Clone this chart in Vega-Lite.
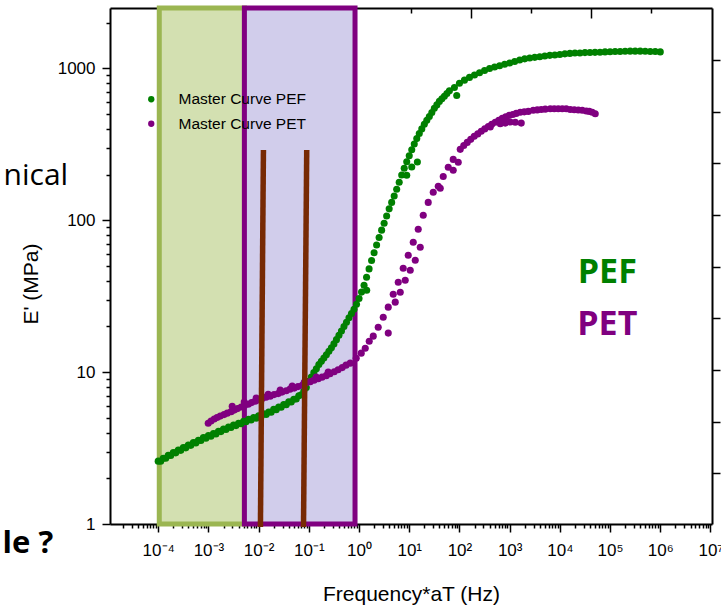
{
  "$schema": "https://vega.github.io/schema/vega-lite/v6.json",
  "width": 602,
  "height": 516,
  "autosize": {"type": "none"},
  "padding": {"left": 110, "top": 8, "right": 9, "bottom": 83},
  "background": "white",
  "config": {
    "view": {"stroke": null},
    "axis": {
      "grid": false, "domainColor": "#000", "tickColor": "#000", "labelColor": "#000", "titleColor": "#000",
      "labelFont": "Liberation Sans", "titleFont": "Liberation Sans", "labelFontSize": 17, "titleFontSize": 21,
      "titleFontWeight": "normal", "domainWidth": 2, "tickWidth": 1.5, "zindex": 1,
      "labelOverlap": false, "labelFlush": false, "labelBound": false
    }
  },
  "datasets": {
    "curves": [
      {"f": 0.0001, "E": 2.594, "s": "Master Curve PEF"},
      {"f": 0.0001122, "E": 2.591, "s": "Master Curve PEF"},
      {"f": 0.0001259, "E": 2.710, "s": "Master Curve PEF"},
      {"f": 0.0001413, "E": 2.707, "s": "Master Curve PEF"},
      {"f": 0.0001585, "E": 2.831, "s": "Master Curve PEF"},
      {"f": 0.0001778, "E": 2.824, "s": "Master Curve PEF"},
      {"f": 0.0001995, "E": 2.951, "s": "Master Curve PEF"},
      {"f": 0.0002239, "E": 2.941, "s": "Master Curve PEF"},
      {"f": 0.0002512, "E": 3.069, "s": "Master Curve PEF"},
      {"f": 0.0002818, "E": 3.055, "s": "Master Curve PEF"},
      {"f": 0.0003162, "E": 3.184, "s": "Master Curve PEF"},
      {"f": 0.0003548, "E": 3.173, "s": "Master Curve PEF"},
      {"f": 0.0003981, "E": 3.311, "s": "Master Curve PEF"},
      {"f": 0.0004467, "E": 3.296, "s": "Master Curve PEF"},
      {"f": 0.0005012, "E": 3.436, "s": "Master Curve PEF"},
      {"f": 0.0005623, "E": 3.420, "s": "Master Curve PEF"},
      {"f": 0.000631, "E": 3.565, "s": "Master Curve PEF"},
      {"f": 0.0007079, "E": 3.552, "s": "Master Curve PEF"},
      {"f": 0.0007943, "E": 3.707, "s": "Master Curve PEF"},
      {"f": 0.0008913, "E": 3.676, "s": "Master Curve PEF"},
      {"f": 0.001, "E": 3.819, "s": "Master Curve PEF"},
      {"f": 0.001122, "E": 3.788, "s": "Master Curve PEF"},
      {"f": 0.001259, "E": 3.936, "s": "Master Curve PEF"},
      {"f": 0.001413, "E": 3.917, "s": "Master Curve PEF"},
      {"f": 0.001585, "E": 4.083, "s": "Master Curve PEF"},
      {"f": 0.001778, "E": 4.059, "s": "Master Curve PEF"},
      {"f": 0.001995, "E": 4.227, "s": "Master Curve PEF"},
      {"f": 0.002239, "E": 4.192, "s": "Master Curve PEF"},
      {"f": 0.002512, "E": 4.355, "s": "Master Curve PEF"},
      {"f": 0.002818, "E": 4.319, "s": "Master Curve PEF"},
      {"f": 0.003162, "E": 4.487, "s": "Master Curve PEF"},
      {"f": 0.003548, "E": 4.445, "s": "Master Curve PEF"},
      {"f": 0.003981, "E": 4.613, "s": "Master Curve PEF"},
      {"f": 0.004467, "E": 4.575, "s": "Master Curve PEF"},
      {"f": 0.005012, "E": 4.753, "s": "Master Curve PEF"},
      {"f": 0.005623, "E": 4.709, "s": "Master Curve PEF"},
      {"f": 0.00631, "E": 4.887, "s": "Master Curve PEF"},
      {"f": 0.007079, "E": 4.841, "s": "Master Curve PEF"},
      {"f": 0.007943, "E": 5.023, "s": "Master Curve PEF"},
      {"f": 0.008913, "E": 4.976, "s": "Master Curve PEF"},
      {"f": 0.01, "E": 5.164, "s": "Master Curve PEF"},
      {"f": 0.01122, "E": 5.122, "s": "Master Curve PEF"},
      {"f": 0.01259, "E": 5.321, "s": "Master Curve PEF"},
      {"f": 0.01413, "E": 5.271, "s": "Master Curve PEF"},
      {"f": 0.01585, "E": 5.470, "s": "Master Curve PEF"},
      {"f": 0.01778, "E": 5.451, "s": "Master Curve PEF"},
      {"f": 0.01995, "E": 5.689, "s": "Master Curve PEF"},
      {"f": 0.02239, "E": 5.662, "s": "Master Curve PEF"},
      {"f": 0.02512, "E": 5.902, "s": "Master Curve PEF"},
      {"f": 0.02818, "E": 5.875, "s": "Master Curve PEF"},
      {"f": 0.03162, "E": 6.124, "s": "Master Curve PEF"},
      {"f": 0.03548, "E": 6.102, "s": "Master Curve PEF"},
      {"f": 0.03981, "E": 6.368, "s": "Master Curve PEF"},
      {"f": 0.04467, "E": 6.353, "s": "Master Curve PEF"},
      {"f": 0.05012, "E": 6.637, "s": "Master Curve PEF"},
      {"f": 0.05623, "E": 6.661, "s": "Master Curve PEF"},
      {"f": 0.0631, "E": 6.998, "s": "Master Curve PEF"},
      {"f": 0.07079, "E": 7.090, "s": "Master Curve PEF"},
      {"f": 0.07943, "E": 7.516, "s": "Master Curve PEF"},
      {"f": 0.08913, "E": 7.926, "s": "Master Curve PEF"},
      {"f": 0.1, "E": 8.710, "s": "Master Curve PEF"},
      {"f": 0.1122, "E": 9.290, "s": "Master Curve PEF"},
      {"f": 0.1259, "E": 9.931, "s": "Master Curve PEF"},
      {"f": 0.1413, "E": 10.54, "s": "Master Curve PEF"},
      {"f": 0.1585, "E": 11.22, "s": "Master Curve PEF"},
      {"f": 0.1778, "E": 11.78, "s": "Master Curve PEF"},
      {"f": 0.1995, "E": 12.39, "s": "Master Curve PEF"},
      {"f": 0.2239, "E": 13.03, "s": "Master Curve PEF"},
      {"f": 0.2512, "E": 13.71, "s": "Master Curve PEF"},
      {"f": 0.2818, "E": 14.45, "s": "Master Curve PEF"},
      {"f": 0.3162, "E": 15.35, "s": "Master Curve PEF"},
      {"f": 0.3548, "E": 16.37, "s": "Master Curve PEF"},
      {"f": 0.3981, "E": 17.50, "s": "Master Curve PEF"},
      {"f": 0.4467, "E": 18.66, "s": "Master Curve PEF"},
      {"f": 0.5012, "E": 19.95, "s": "Master Curve PEF"},
      {"f": 0.5623, "E": 21.33, "s": "Master Curve PEF"},
      {"f": 0.631, "E": 22.80, "s": "Master Curve PEF"},
      {"f": 0.7079, "E": 24.32, "s": "Master Curve PEF"},
      {"f": 0.7943, "E": 25.94, "s": "Master Curve PEF"},
      {"f": 0.8913, "E": 27.99, "s": "Master Curve PEF"},
      {"f": 1.0, "E": 30.55, "s": "Master Curve PEF"},
      {"f": 1.122, "E": 33.65, "s": "Master Curve PEF"},
      {"f": 1.259, "E": 37.33, "s": "Master Curve PEF"},
      {"f": 1.413, "E": 42.17, "s": "Master Curve PEF"},
      {"f": 1.422, "E": 34.6, "s": "Master Curve PEF"},
      {"f": 1.585, "E": 47.86, "s": "Master Curve PEF"},
      {"f": 1.778, "E": 54.33, "s": "Master Curve PEF"},
      {"f": 1.995, "E": 61.09, "s": "Master Curve PEF"},
      {"f": 2.239, "E": 68.71, "s": "Master Curve PEF"},
      {"f": 2.512, "E": 77.09, "s": "Master Curve PEF"},
      {"f": 2.818, "E": 86.10, "s": "Master Curve PEF"},
      {"f": 3.162, "E": 95.50, "s": "Master Curve PEF"},
      {"f": 3.548, "E": 106.7, "s": "Master Curve PEF"},
      {"f": 3.981, "E": 118.9, "s": "Master Curve PEF"},
      {"f": 4.467, "E": 131.2, "s": "Master Curve PEF"},
      {"f": 5.012, "E": 144.5, "s": "Master Curve PEF"},
      {"f": 5.623, "E": 160.3, "s": "Master Curve PEF"},
      {"f": 6.31, "E": 177.8, "s": "Master Curve PEF"},
      {"f": 7.079, "E": 198.6, "s": "Master Curve PEF"},
      {"f": 7.943, "E": 220.3, "s": "Master Curve PEF"},
      {"f": 8.913, "E": 242.7, "s": "Master Curve PEF"},
      {"f": 8.913, "E": 197.7, "s": "Master Curve PEF"},
      {"f": 10, "E": 266.1, "s": "Master Curve PEF"},
      {"f": 11.22, "E": 291.7, "s": "Master Curve PEF"},
      {"f": 11.22, "E": 224.6, "s": "Master Curve PEF"},
      {"f": 12.59, "E": 317.7, "s": "Master Curve PEF"},
      {"f": 14.13, "E": 345.1, "s": "Master Curve PEF"},
      {"f": 14.52, "E": 242.0, "s": "Master Curve PEF"},
      {"f": 15.85, "E": 372.4, "s": "Master Curve PEF"},
      {"f": 17.78, "E": 399.9, "s": "Master Curve PEF"},
      {"f": 19.95, "E": 428.5, "s": "Master Curve PEF"},
      {"f": 22.39, "E": 455.0, "s": "Master Curve PEF"},
      {"f": 25.12, "E": 482.0, "s": "Master Curve PEF"},
      {"f": 28.18, "E": 512.9, "s": "Master Curve PEF"},
      {"f": 31.62, "E": 545.8, "s": "Master Curve PEF"},
      {"f": 35.48, "E": 575.4, "s": "Master Curve PEF"},
      {"f": 39.81, "E": 606.7, "s": "Master Curve PEF"},
      {"f": 44.67, "E": 631.0, "s": "Master Curve PEF"},
      {"f": 50.12, "E": 656.1, "s": "Master Curve PEF"},
      {"f": 56.23, "E": 683.9, "s": "Master Curve PEF"},
      {"f": 63.1, "E": 712.9, "s": "Master Curve PEF"},
      {"f": 79.43, "E": 749.9, "s": "Master Curve PEF"},
      {"f": 88.3, "E": 663.7, "s": "Master Curve PEF"},
      {"f": 100, "E": 799.8, "s": "Master Curve PEF"},
      {"f": 125.9, "E": 837.5, "s": "Master Curve PEF"},
      {"f": 158.5, "E": 873.0, "s": "Master Curve PEF"},
      {"f": 199.5, "E": 905.7, "s": "Master Curve PEF"},
      {"f": 251.2, "E": 937.6, "s": "Master Curve PEF"},
      {"f": 316.2, "E": 968.3, "s": "Master Curve PEF"},
      {"f": 398.1, "E": 997.7, "s": "Master Curve PEF"},
      {"f": 501.2, "E": 1021, "s": "Master Curve PEF"},
      {"f": 631, "E": 1042, "s": "Master Curve PEF"},
      {"f": 794.3, "E": 1064, "s": "Master Curve PEF"},
      {"f": 1000, "E": 1086, "s": "Master Curve PEF"},
      {"f": 1259, "E": 1112, "s": "Master Curve PEF"},
      {"f": 1585, "E": 1135, "s": "Master Curve PEF"},
      {"f": 1995, "E": 1156, "s": "Master Curve PEF"},
      {"f": 2512, "E": 1172, "s": "Master Curve PEF"},
      {"f": 3162, "E": 1183, "s": "Master Curve PEF"},
      {"f": 3981, "E": 1194, "s": "Master Curve PEF"},
      {"f": 5012, "E": 1208, "s": "Master Curve PEF"},
      {"f": 6310, "E": 1219, "s": "Master Curve PEF"},
      {"f": 7943, "E": 1227, "s": "Master Curve PEF"},
      {"f": 10000, "E": 1236, "s": "Master Curve PEF"},
      {"f": 12590, "E": 1247, "s": "Master Curve PEF"},
      {"f": 15850, "E": 1256, "s": "Master Curve PEF"},
      {"f": 19950, "E": 1262, "s": "Master Curve PEF"},
      {"f": 25120, "E": 1265, "s": "Master Curve PEF"},
      {"f": 31620, "E": 1271, "s": "Master Curve PEF"},
      {"f": 39810, "E": 1274, "s": "Master Curve PEF"},
      {"f": 50120, "E": 1276, "s": "Master Curve PEF"},
      {"f": 63100, "E": 1279, "s": "Master Curve PEF"},
      {"f": 79430, "E": 1285, "s": "Master Curve PEF"},
      {"f": 100000, "E": 1288, "s": "Master Curve PEF"},
      {"f": 125900, "E": 1291, "s": "Master Curve PEF"},
      {"f": 158500, "E": 1294, "s": "Master Curve PEF"},
      {"f": 199500, "E": 1297, "s": "Master Curve PEF"},
      {"f": 251200, "E": 1300, "s": "Master Curve PEF"},
      {"f": 316200, "E": 1300, "s": "Master Curve PEF"},
      {"f": 398100, "E": 1300, "s": "Master Curve PEF"},
      {"f": 501200, "E": 1297, "s": "Master Curve PEF"},
      {"f": 631000, "E": 1294, "s": "Master Curve PEF"},
      {"f": 794300, "E": 1291, "s": "Master Curve PEF"},
      {"f": 1000000, "E": 1285, "s": "Master Curve PEF"},

      {"f": 0.000991, "E": 4.613, "s": "Master Curve PET"},
      {"f": 0.001127, "E": 4.764, "s": "Master Curve PET"},
      {"f": 0.001306, "E": 4.909, "s": "Master Curve PET"},
      {"f": 0.001483, "E": 5.021, "s": "Master Curve PET"},
      {"f": 0.001718, "E": 5.134, "s": "Master Curve PET"},
      {"f": 0.002046, "E": 5.253, "s": "Master Curve PET"},
      {"f": 0.002371, "E": 5.370, "s": "Master Curve PET"},
      {"f": 0.002831, "E": 5.495, "s": "Master Curve PET"},
      {"f": 0.002979, "E": 5.970, "s": "Master Curve PET"},
      {"f": 0.003266, "E": 5.623, "s": "Master Curve PET"},
      {"f": 0.003802, "E": 5.754, "s": "Master Curve PET"},
      {"f": 0.004498, "E": 5.888, "s": "Master Curve PET"},
      {"f": 0.005164, "E": 6.353, "s": "Master Curve PET"},
      {"f": 0.005236, "E": 6.020, "s": "Master Curve PET"},
      {"f": 0.006209, "E": 6.152, "s": "Master Curve PET"},
      {"f": 0.007228, "E": 6.300, "s": "Master Curve PET"},
      {"f": 0.008551, "E": 6.442, "s": "Master Curve PET"},
      {"f": 0.008954, "E": 6.745, "s": "Master Curve PET"},
      {"f": 0.009954, "E": 6.546, "s": "Master Curve PET"},
      {"f": 0.0118, "E": 6.699, "s": "Master Curve PET"},
      {"f": 0.01403, "E": 6.846, "s": "Master Curve PET"},
      {"f": 0.01552, "E": 7.161, "s": "Master Curve PET"},
      {"f": 0.01702, "E": 6.950, "s": "Master Curve PET"},
      {"f": 0.02028, "E": 7.112, "s": "Master Curve PET"},
      {"f": 0.02455, "E": 7.223, "s": "Master Curve PET"},
      {"f": 0.02692, "E": 7.621, "s": "Master Curve PET"},
      {"f": 0.02924, "E": 7.389, "s": "Master Curve PET"},
      {"f": 0.03548, "E": 7.551, "s": "Master Curve PET"},
      {"f": 0.04217, "E": 7.727, "s": "Master Curve PET"},
      {"f": 0.04667, "E": 8.091, "s": "Master Curve PET"},
      {"f": 0.05117, "E": 7.852, "s": "Master Curve PET"},
      {"f": 0.06095, "E": 8.029, "s": "Master Curve PET"},
      {"f": 0.07396, "E": 8.204, "s": "Master Curve PET"},
      {"f": 0.08091, "E": 8.590, "s": "Master Curve PET"},
      {"f": 0.0879, "E": 8.472, "s": "Master Curve PET"},
      {"f": 0.1067, "E": 8.660, "s": "Master Curve PET"},
      {"f": 0.127, "E": 8.859, "s": "Master Curve PET"},
      {"f": 0.1403, "E": 9.268, "s": "Master Curve PET"},
      {"f": 0.1538, "E": 9.057, "s": "Master Curve PET"},
      {"f": 0.1832, "E": 9.268, "s": "Master Curve PET"},
      {"f": 0.2223, "E": 9.484, "s": "Master Curve PET"},
      {"f": 0.2432, "E": 10.0, "s": "Master Curve PET"},
      {"f": 0.2642, "E": 9.775, "s": "Master Curve PET"},
      {"f": 0.3206, "E": 10.07, "s": "Master Curve PET"},
      {"f": 0.3828, "E": 10.38, "s": "Master Curve PET"},
      {"f": 0.4624, "E": 10.71, "s": "Master Curve PET"},
      {"f": 0.5508, "E": 11.12, "s": "Master Curve PET"},
      {"f": 0.6683, "E": 11.46, "s": "Master Curve PET"},
      {"f": 0.879, "E": 12.36, "s": "Master Curve PET"},
      {"f": 1.107, "E": 13.34, "s": "Master Curve PET"},
      {"f": 1.33, "E": 14.38, "s": "Master Curve PET"},
      {"f": 1.596, "E": 15.99, "s": "Master Curve PET"},
      {"f": 1.919, "E": 17.26, "s": "Master Curve PET"},
      {"f": 2.411, "E": 19.77, "s": "Master Curve PET"},
      {"f": 3.034, "E": 23.01, "s": "Master Curve PET"},
      {"f": 3.819, "E": 26.79, "s": "Master Curve PET"},
      {"f": 3.819, "E": 18.07, "s": "Master Curve PET"},
      {"f": 4.797, "E": 32.58, "s": "Master Curve PET"},
      {"f": 5.26, "E": 28.91, "s": "Master Curve PET"},
      {"f": 6.039, "E": 39.08, "s": "Master Curve PET"},
      {"f": 6.622, "E": 33.58, "s": "Master Curve PET"},
      {"f": 7.586, "E": 48.31, "s": "Master Curve PET"},
      {"f": 8.318, "E": 40.27, "s": "Master Curve PET"},
      {"f": 9.55, "E": 58.88, "s": "Master Curve PET"},
      {"f": 10.47, "E": 46.88, "s": "Master Curve PET"},
      {"f": 12.02, "E": 71.61, "s": "Master Curve PET"},
      {"f": 13.18, "E": 54.58, "s": "Master Curve PET"},
      {"f": 15.10, "E": 87.30, "s": "Master Curve PET"},
      {"f": 16.56, "E": 66.42, "s": "Master Curve PET"},
      {"f": 19.01, "E": 107.9, "s": "Master Curve PET"},
      {"f": 23.88, "E": 131.2, "s": "Master Curve PET"},
      {"f": 30.06, "E": 152.8, "s": "Master Curve PET"},
      {"f": 37.84, "E": 167.5, "s": "Master Curve PET"},
      {"f": 41.50, "E": 162.4, "s": "Master Curve PET"},
      {"f": 47.53, "E": 194.5, "s": "Master Curve PET"},
      {"f": 59.84, "E": 223.4, "s": "Master Curve PET"},
      {"f": 75.16, "E": 251.8, "s": "Master Curve PET"},
      {"f": 75.16, "E": 213.3, "s": "Master Curve PET"},
      {"f": 94.62, "E": 240.9, "s": "Master Curve PET"},
      {"f": 103.7, "E": 293.1, "s": "Master Curve PET"},
      {"f": 121.9, "E": 311.2, "s": "Master Curve PET"},
      {"f": 142.9, "E": 325.8, "s": "Master Curve PET"},
      {"f": 167.9, "E": 341.2, "s": "Master Curve PET"},
      {"f": 197.2, "E": 357.3, "s": "Master Curve PET"},
      {"f": 231.7, "E": 370.7, "s": "Master Curve PET"},
      {"f": 271.6, "E": 385.5, "s": "Master Curve PET"},
      {"f": 319.2, "E": 399.9, "s": "Master Curve PET"},
      {"f": 375.0, "E": 415.0, "s": "Master Curve PET"},
      {"f": 411.2, "E": 411.2, "s": "Master Curve PET"},
      {"f": 439.5, "E": 428.5, "s": "Master Curve PET"},
      {"f": 516.4, "E": 441.6, "s": "Master Curve PET"},
      {"f": 606.7, "E": 455.0, "s": "Master Curve PET"},
      {"f": 650.1, "E": 432.5, "s": "Master Curve PET"},
      {"f": 712.9, "E": 468.8, "s": "Master Curve PET"},
      {"f": 816.6, "E": 436.5, "s": "Master Curve PET"},
      {"f": 835.6, "E": 479.7, "s": "Master Curve PET"},
      {"f": 981.7, "E": 490.9, "s": "Master Curve PET"},
      {"f": 1028, "E": 443.6, "s": "Master Curve PET"},
      {"f": 1153, "E": 497.7, "s": "Master Curve PET"},
      {"f": 1294, "E": 441.6, "s": "Master Curve PET"},
      {"f": 1352, "E": 505.8, "s": "Master Curve PET"},
      {"f": 1626, "E": 514.0, "s": "Master Curve PET"},
      {"f": 1702, "E": 436.5, "s": "Master Curve PET"},
      {"f": 1954, "E": 517.6, "s": "Master Curve PET"},
      {"f": 2350, "E": 521.2, "s": "Master Curve PET"},
      {"f": 2951, "E": 529.7, "s": "Master Curve PET"},
      {"f": 3548, "E": 533.3, "s": "Master Curve PET"},
      {"f": 4256, "E": 537.0, "s": "Master Curve PET"},
      {"f": 5117, "E": 539.5, "s": "Master Curve PET"},
      {"f": 6442, "E": 541.9, "s": "Master Curve PET"},
      {"f": 7727, "E": 542.0, "s": "Master Curve PET"},
      {"f": 9290, "E": 543.3, "s": "Master Curve PET"},
      {"f": 11170, "E": 542.0, "s": "Master Curve PET"},
      {"f": 13400, "E": 541.9, "s": "Master Curve PET"},
      {"f": 16110, "E": 537.0, "s": "Master Curve PET"},
      {"f": 19360, "E": 534.6, "s": "Master Curve PET"},
      {"f": 23280, "E": 532.1, "s": "Master Curve PET"},
      {"f": 27930, "E": 529.7, "s": "Master Curve PET"},
      {"f": 33570, "E": 524.8, "s": "Master Curve PET"},
      {"f": 38550, "E": 521.2, "s": "Master Curve PET"},
      {"f": 44160, "E": 514.0, "s": "Master Curve PET"},
      {"f": 50700, "E": 503.5, "s": "Master Curve PET"}
    ]
  },
  "resolve": {"axis": {"x": "independent", "y": "independent"}},
  "layer": [
    {
      "data": {"values": [{"f1": 0.000105, "f2": 0.00521, "E1": 1, "E2": 2500}]},
      "mark": {"type": "rect", "fill": "#d3e0b1", "stroke": "#9bb652", "strokeWidth": 5},
      "encoding": {
        "x": {"field": "f1", "type": "quantitative",
              "scale": {"type": "log", "domain": [0.00001096, 10720000], "nice": false},
              "axis": {"orient": "bottom", "title": "Frequency*aT (Hz)", "titleX": 301, "titleY": 76, "titleBaseline": "alphabetic",
                       "values": [0.0001, 0.001, 0.01, 0.1, 1, 10, 100, 1000, 10000, 100000, 1000000, 10000000],
                       "labelExpr": "['10⁻⁴','10⁻³','10⁻²','10⁻¹','10⁰','10¹','10²','10³','10⁴','10⁵','10⁶','10⁷'][round(log(datum.value)/LN10)+4]",
                       "tickSize": 8, "labelPadding": 10}},
        "x2": {"field": "f2"},
        "y": {"field": "E1", "type": "quantitative",
              "scale": {"type": "log", "domain": [1, 2500], "nice": false},
              "axis": {"orient": "left", "title": "E' (MPa)", "titleX": -73, "titleY": 275.5, "titleBaseline": "alphabetic", "titleAlign": "center", "titleAngle": 270,
                       "values": [1, 10, 100, 1000], "format": "d", "tickSize": 8, "labelPadding": 7}},
        "y2": {"field": "E2"}
      }
    },
    {
      "data": {"values": [{"f1": 0.00521, "f2": 0.832, "E1": 1, "E2": 2500}]},
      "mark": {"type": "rect", "fill": "#d1cdeb", "stroke": "#800080", "strokeWidth": 5},
      "encoding": {
        "x": {"field": "f1", "type": "quantitative",
              "axis": {"orient": "bottom", "title": null, "labels": false, "domain": false, "tickSize": 4,
                       "values": [2e-5,3e-5,4e-5,5e-5,6e-5,7e-5,8e-5,9e-5,2e-4,3e-4,4e-4,5e-4,6e-4,7e-4,8e-4,9e-4,2e-3,3e-3,4e-3,5e-3,6e-3,7e-3,8e-3,9e-3,0.02,0.03,0.04,0.05,0.06,0.07,0.08,0.09,0.2,0.3,0.4,0.5,0.6,0.7,0.8,0.9,2,3,4,5,6,7,8,9,20,30,40,50,60,70,80,90,200,300,400,500,600,700,800,900,2000,3000,4000,5000,6000,7000,8000,9000,20000,30000,40000,50000,60000,70000,80000,90000,200000,300000,400000,500000,600000,700000,800000,900000,2000000,3000000,4000000,5000000,6000000,7000000,8000000,9000000]}},
        "x2": {"field": "f2"},
        "y": {"field": "E1", "type": "quantitative",
              "axis": {"orient": "left", "title": null, "labels": false, "domain": false, "tickSize": 4,
                       "values": [2,3,4,5,6,7,8,9,20,30,40,50,60,70,80,90,200,300,400,500,600,700,800,900,2000]}},
        "y2": {"field": "E2"}
      }
    },
    {
      "data": {"name": "curves"},
      "mark": {"type": "point", "filled": true, "shape": "circle", "size": 50, "opacity": 1},
      "encoding": {
        "x": {"field": "f", "type": "quantitative",
              "axis": {"orient": "top", "title": null, "labels": false, "tickSize": -10,
                       "values": [0.002754, 0.6934, 170.2, 41880]}},
        "y": {"field": "E", "type": "quantitative",
              "axis": {"orient": "right", "title": null, "labels": false, "tickSize": 8,
                       "values": [1134, 515.9, 238.2, 108.3, 49.3, 22.76, 10.35, 4.71, 2.176]}},
        "color": {"field": "s", "type": "nominal",
                  "scale": {"domain": ["Master Curve PEF", "Master Curve PET"], "range": ["#008000", "#800080"]},
                  "legend": {"orient": "none", "legendX": 33.5, "legendY": 83.5, "title": null, "padding": 0,
                             "labelFont": "Liberation Sans", "labelFontSize": 15.5, "labelColor": "#000",
                             "symbolType": "circle", "symbolSize": 40, "symbolStrokeWidth": 0,
                             "labelOffset": 19.5, "rowPadding": 7.5}}
      }
    },
    {
      "data": {"values": [{"f1": 0.01086, "f2": 0.01247, "E1": 0.956, "E2": 290}, {"f1": 0.07834, "f2": 0.09078, "E1": 0.956, "E2": 290}]},
      "mark": {"type": "rule", "color": "#772a03", "strokeWidth": 5.5, "strokeCap": "butt"},
      "encoding": {
        "x": {"field": "f1", "type": "quantitative",
              "axis": {"orient": "top", "title": null, "labels": false, "domain": false, "tickSize": -5,
                       "values": [0.0001718, 0.04416, 10.86, 2667, 656200]}},
        "x2": {"field": "f2"},
        "y": {"field": "E1", "type": "quantitative", "axis": null},
        "y2": {"field": "E2"}
      }
    },
    {
      "data": {"values": [{"label": "PEF", "f": 88000, "E": 38.5}]},
      "mark": {"type": "text", "font": "Open Sans", "fontWeight": "bold", "fontSize": 34, "color": "#008000", "align": "center", "baseline": "alphabetic"},
      "encoding": {
        "x": {"field": "f", "type": "quantitative", "axis": null},
        "y": {"field": "E", "type": "quantitative", "axis": null},
        "text": {"field": "label"}
      }
    },
    {
      "data": {"values": [{"label": "PET", "f": 88000, "E": 17.5}]},
      "mark": {"type": "text", "font": "Open Sans", "fontWeight": "bold", "fontSize": 34, "color": "#800080", "align": "center", "baseline": "alphabetic"},
      "encoding": {
        "x": {"field": "f", "type": "quantitative", "axis": null},
        "y": {"field": "E", "type": "quantitative", "axis": null},
        "text": {"field": "label"}
      }
    },
    {
      "data": {"values": [{"label": "nical", "f": 0.00000161, "E": 169.8}]},
      "mark": {"type": "text", "font": "Open Sans", "fontSize": 30, "color": "#000", "align": "right", "baseline": "alphabetic"},
      "encoding": {
        "x": {"field": "f", "type": "quantitative", "axis": null},
        "y": {"field": "E", "type": "quantitative", "axis": null},
        "text": {"field": "label"}
      }
    },
    {
      "data": {"values": [{"label": "le ?", "f": 0.00000081, "E": 0.644}]},
      "mark": {"type": "text", "font": "Open Sans", "fontWeight": "bold", "fontSize": 31, "color": "#000", "align": "right", "baseline": "alphabetic"},
      "encoding": {
        "x": {"field": "f", "type": "quantitative", "axis": null},
        "y": {"field": "E", "type": "quantitative", "axis": null},
        "text": {"field": "label"}
      }
    }
  ]
}
